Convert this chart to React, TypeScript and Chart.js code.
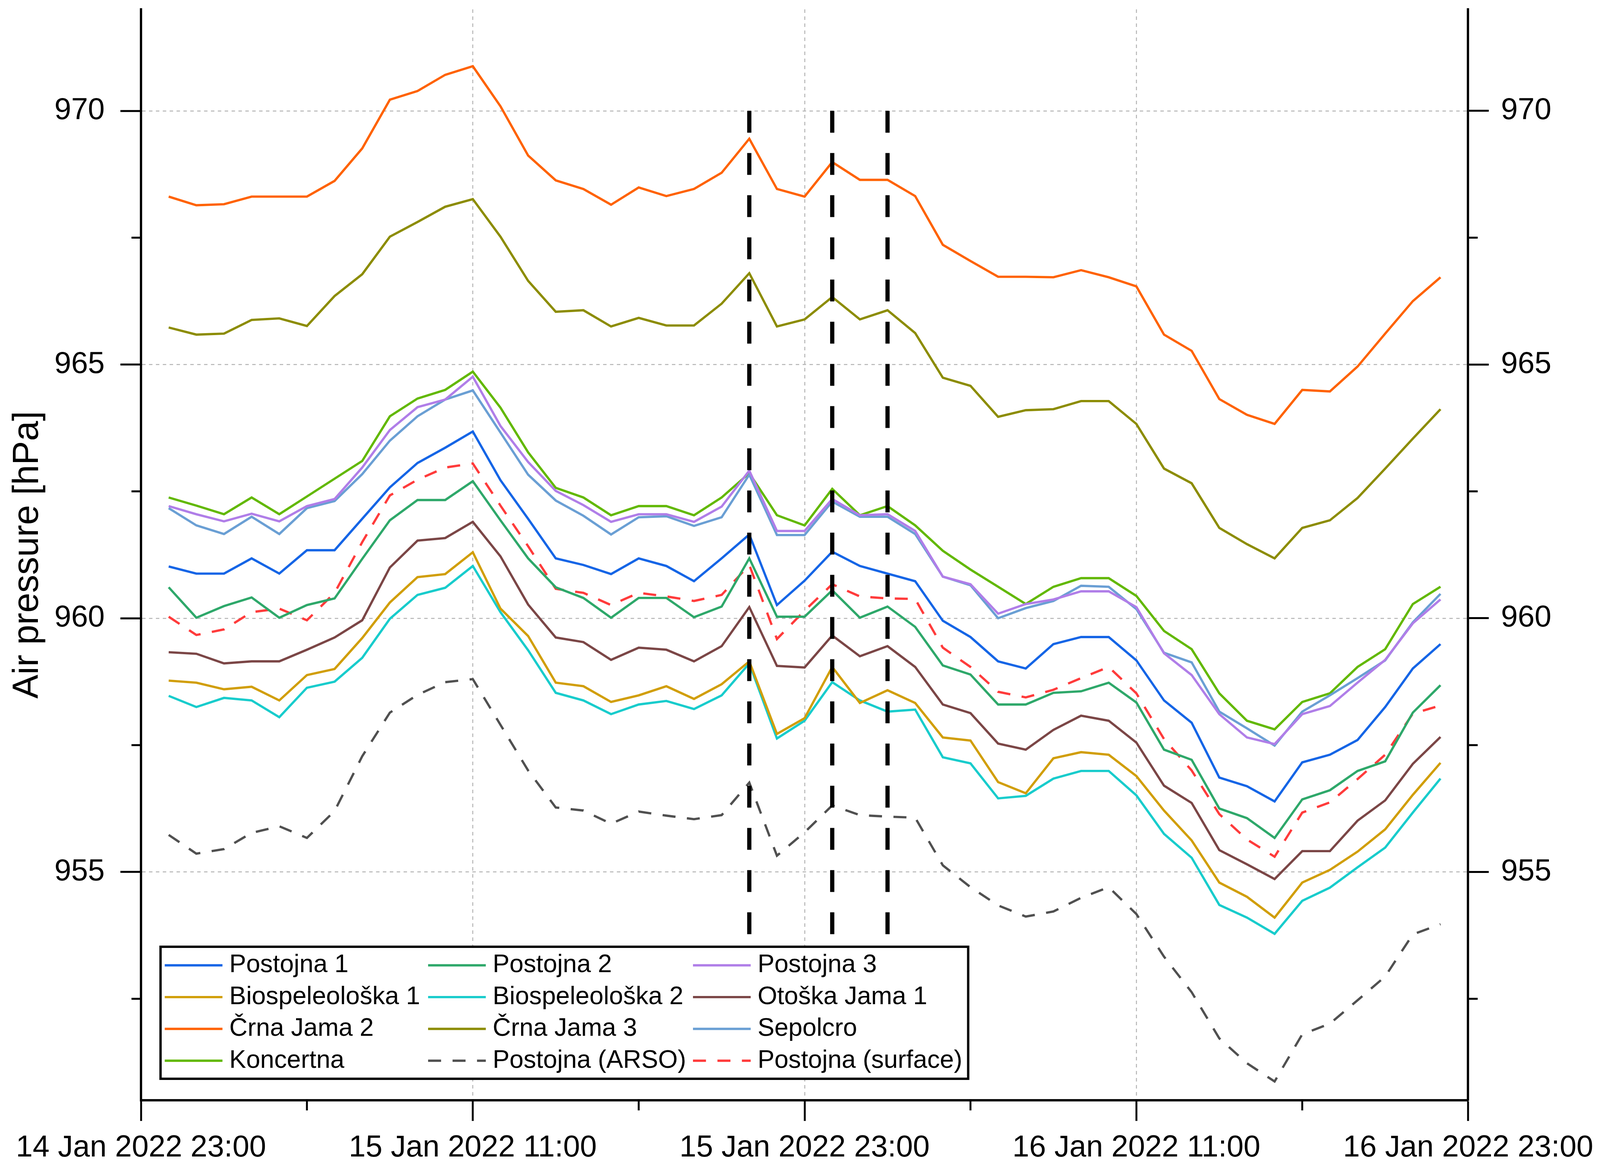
import React, { useEffect, useRef } from 'react';
import { Chart, registerables } from 'chart.js';

Chart.register(...registerables);

const FONT = '"Liberation Sans", Arial, Helvetica, sans-serif';
const GRID = '#b4b4b4';
const REF_W = 4186;
const REF_H = 2993;

// hours after 14 Jan 2022 23:00
const hours = [
  1, 2, 3, 4, 5, 6, 7, 8, 9, 10, 11, 12, 13, 14, 15, 16, 17, 18, 19, 20, 21, 22, 23, 24,
  25, 26, 27, 28, 29, 30, 31, 32, 33, 34, 35, 36, 37, 38, 39, 40, 41, 42, 43, 44, 45, 46, 47,
];
const xTickLabels = [
  '14 Jan 2022 23:00',
  '15 Jan 2022 11:00',
  '15 Jan 2022 23:00',
  '16 Jan 2022 11:00',
  '16 Jan 2022 23:00',
];
const xMinorTicks = [6, 18, 30, 42];
const yMinorTicks = [952.5, 957.5, 962.5, 967.5];
const eventHours = [22, 25, 27];
const eventRange = [970, 953.75];

const postojna1 = [
  961.02, 960.88, 960.88, 961.18, 960.88, 961.34, 961.34, 961.96, 962.58, 963.06, 963.36, 963.68,
  962.72, 961.96, 961.18, 961.05, 960.87, 961.18, 961.03, 960.73, 961.18, 961.65, 960.26, 960.74,
  961.31, 961.03, 960.88, 960.73, 959.95, 959.63, 959.15, 959.01, 959.49, 959.63, 959.63, 959.17,
  958.38, 957.94, 956.86, 956.69, 956.39, 957.16, 957.31, 957.6, 958.25, 959.01, 959.49,
];
const postojna2 = [
  960.61, 960.01, 960.24, 960.41, 960.01, 960.26, 960.39, 961.17, 961.93, 962.33, 962.33, 962.7,
  961.93, 961.18, 960.61, 960.4, 960.01, 960.4, 960.4, 960.02, 960.23, 961.18, 960.03, 960.03,
  960.55, 960.01, 960.23, 959.83, 959.07, 958.89, 958.3, 958.3, 958.53, 958.56, 958.73, 958.34,
  957.41, 957.21, 956.25, 956.06, 955.67, 956.43, 956.61, 956.99, 957.18, 958.14, 958.68,
];
const postojna3 = [
  962.21, 962.05, 961.91, 962.06, 961.91, 962.21, 962.35, 962.97, 963.71, 964.16, 964.31, 964.76,
  963.79, 963.08, 962.51, 962.23, 961.9, 962.05, 962.05, 961.9, 962.2, 962.91, 961.72, 961.72,
  962.35, 962.03, 962.05, 961.72, 960.82, 960.67, 960.09, 960.28, 960.37, 960.53, 960.53, 960.22,
  959.31, 958.88, 958.11, 957.65, 957.52, 958.11, 958.27, 958.73, 959.18, 959.9, 960.37,
];
const biospeleoloska1 = [
  958.77, 958.73, 958.6, 958.65, 958.38, 958.88, 959.0, 959.61, 960.31, 960.81, 960.87, 961.3,
  960.19, 959.65, 958.73, 958.66, 958.35, 958.48, 958.66, 958.41, 958.7, 959.15, 957.72, 958.03,
  959.04, 958.33, 958.58, 958.33, 957.65, 957.59, 956.77, 956.55, 957.24, 957.36, 957.31, 956.89,
  956.21, 955.62, 954.79, 954.51, 954.1, 954.79, 955.04, 955.4, 955.84, 956.52, 957.15,
];
const biospeleoloska2 = [
  958.47, 958.25, 958.43, 958.38, 958.05, 958.63, 958.75, 959.22, 959.99, 960.46, 960.6, 961.03,
  960.12, 959.37, 958.53, 958.38, 958.11, 958.3, 958.37, 958.21, 958.48, 959.11, 957.63, 957.98,
  958.74, 958.38, 958.16, 958.2, 957.26, 957.14, 956.45, 956.5, 956.84, 956.99, 956.99, 956.51,
  955.75, 955.28, 954.35, 954.1, 953.78, 954.43, 954.69, 955.09, 955.48, 956.17, 956.84,
];
const otoskaJama1 = [
  959.33, 959.3, 959.11, 959.15, 959.15, 959.38, 959.62, 959.96, 961.0, 961.53, 961.58, 961.9,
  961.22, 960.27, 959.62, 959.53, 959.18, 959.42, 959.38, 959.15, 959.45, 960.22, 959.06, 959.03,
  959.66, 959.25, 959.45, 959.04, 958.3, 958.13, 957.53, 957.41, 957.8, 958.08, 957.98, 957.55,
  956.7, 956.36, 955.43, 955.15, 954.86, 955.41, 955.41, 956.01, 956.41, 957.13, 957.66,
];
const crnaJama2 = [
  968.31, 968.14, 968.16, 968.31, 968.31, 968.31, 968.62, 969.26, 970.22, 970.39, 970.71, 970.88,
  970.09, 969.12, 968.63, 968.46, 968.15, 968.49, 968.32, 968.46, 968.78, 969.45, 968.46, 968.31,
  968.99, 968.64, 968.64, 968.32, 967.36, 967.04, 966.73, 966.73, 966.72, 966.86, 966.72, 966.54,
  965.59, 965.27, 964.32, 964.01, 963.83, 964.5, 964.47, 964.96, 965.61, 966.25, 966.72,
];
const crnaJama3 = [
  965.73, 965.59, 965.61, 965.88, 965.91, 965.76, 966.35, 966.78, 967.52, 967.81, 968.11, 968.26,
  967.52, 966.65, 966.04, 966.07, 965.75, 965.92, 965.77, 965.77, 966.2, 966.8, 965.75, 965.89,
  966.33, 965.89, 966.07, 965.62, 964.74, 964.58, 963.97, 964.1, 964.12, 964.28, 964.28, 963.83,
  962.95, 962.66, 961.78, 961.46, 961.18, 961.78, 961.93, 962.37, 962.95, 963.54, 964.12,
];
const sepolcro = [
  962.17, 961.83, 961.66, 962.0, 961.66, 962.17, 962.31, 962.84, 963.5, 963.98, 964.31, 964.49,
  963.66, 962.83, 962.32, 962.02, 961.65, 961.99, 962.01, 961.82, 961.99, 962.83, 961.64, 961.64,
  962.3, 962.0, 962.0, 961.66, 960.82, 960.65, 960.0, 960.2, 960.34, 960.64, 960.62, 960.18,
  959.32, 959.13, 958.16, 957.83, 957.49, 958.16, 958.48, 958.82, 959.17, 959.92, 960.48,
];
const koncertna = [
  962.38, 962.22, 962.05, 962.38, 962.05, 962.4, 962.75, 963.1, 963.98, 964.33, 964.5, 964.86,
  964.15, 963.27, 962.57, 962.38, 962.03, 962.21, 962.21, 962.03, 962.38, 962.86, 962.03, 961.83,
  962.55, 962.03, 962.21, 961.83, 961.33, 960.96, 960.62, 960.28, 960.62, 960.79, 960.79, 960.44,
  959.75, 959.39, 958.52, 957.98, 957.81, 958.35, 958.52, 959.04, 959.39, 960.28, 960.62,
];
const postojnaArso = [
  955.73, 955.36, 955.45, 955.77, 955.9, 955.67, 956.2, 957.28, 958.14, 958.49, 958.74, 958.8,
  957.9, 957.0, 956.27, 956.21, 955.95, 956.19, 956.11, 956.04, 956.12, 956.76, 955.32, 955.78,
  956.31, 956.12, 956.09, 956.07, 955.13, 954.7, 954.34, 954.12, 954.22, 954.49, 954.7, 954.17,
  953.33, 952.63, 951.72, 951.23, 950.87, 951.8, 952.01, 952.47, 952.94, 953.77, 953.97,
];
const postojnaSurface = [
  960.03, 959.67, 959.78, 960.12, 960.19, 959.96, 960.5, 961.5, 962.42, 962.73, 962.97, 963.05,
  962.22, 961.42, 960.58, 960.5, 960.26, 960.5, 960.43, 960.34, 960.46, 961.05, 959.59, 960.15,
  960.67, 960.43, 960.39, 960.38, 959.42, 959.04, 958.55, 958.44, 958.59, 958.82, 959.04, 958.52,
  957.62, 957.0, 956.14, 955.64, 955.3, 956.17, 956.37, 956.83, 957.31, 958.12, 958.28,
];

const seriesDefs = [
  { label: 'Postojna 1', values: postojna1, color: '#1565e6', dash: [] as number[] },
  { label: 'Postojna 2', values: postojna2, color: '#2ea86a', dash: [] },
  { label: 'Postojna 3', values: postojna3, color: '#b07ee8', dash: [] },
  { label: 'Biospeleološka 1', values: biospeleoloska1, color: '#d19e08', dash: [] },
  { label: 'Biospeleološka 2', values: biospeleoloska2, color: '#18cccc', dash: [] },
  { label: 'Otoška Jama 1', values: otoskaJama1, color: '#7b4646', dash: [] },
  { label: 'Črna Jama 2', values: crnaJama2, color: '#ff6200', dash: [] },
  { label: 'Črna Jama 3', values: crnaJama3, color: '#8c8c00', dash: [] },
  { label: 'Sepolcro', values: sepolcro, color: '#6a9fd4', dash: [] },
  { label: 'Koncertna', values: koncertna, color: '#62b800', dash: [] },
  { label: 'Postojna (ARSO)', values: postojnaArso, color: '#505050', dash: [34, 30] },
  { label: 'Postojna (surface)', values: postojnaSurface, color: '#ff3b3b', dash: [34, 30] },
];

function makeExtrasPlugin(kx: number, ky: number) {
  const ux = (v: number) => v * kx;
  const uy = (v: number) => v * ky;
  return {
    id: 'extras',
    afterDatasetsDraw(chart: any) {
      const { ctx } = chart;
      const xs = chart.scales.x;
      const ys = chart.scales.y;
      ctx.save();
      ctx.strokeStyle = '#000';
      ctx.lineWidth = ux(11);
      ctx.lineCap = 'butt';
      ctx.setLineDash([uy(56), uy(52)]);
      eventHours.forEach((h) => {
        const px = xs.getPixelForValue(h);
        ctx.beginPath();
        ctx.moveTo(px, ys.getPixelForValue(eventRange[0]));
        ctx.lineTo(px, ys.getPixelForValue(eventRange[1]));
        ctx.stroke();
      });
      ctx.restore();
    },
    afterDraw(chart: any) {
      const { ctx, chartArea: ca } = chart;
      const xs = chart.scales.x;
      const ys = chart.scales.y;
      ctx.save();
      ctx.strokeStyle = '#000';
      ctx.setLineDash([]);
      ctx.lineWidth = ux(5);
      xMinorTicks.forEach((v) => {
        const px = xs.getPixelForValue(v);
        ctx.beginPath();
        ctx.moveTo(px, ca.bottom);
        ctx.lineTo(px, ca.bottom + uy(26));
        ctx.stroke();
      });
      ctx.lineWidth = uy(5);
      yMinorTicks.forEach((v) => {
        const py = ys.getPixelForValue(v);
        ctx.beginPath();
        ctx.moveTo(ca.left - ux(25), py);
        ctx.lineTo(ca.left, py);
        ctx.moveTo(ca.right, py);
        ctx.lineTo(ca.right + ux(25), py);
        ctx.stroke();
      });

      // legend box
      const w = ux(2113);
      const h = uy(338);
      const left = ca.left + ux(51);
      const top = ca.bottom - uy(55) - h;
      ctx.fillStyle = '#fff';
      ctx.fillRect(left, top, w, h);
      ctx.lineWidth = uy(6);
      ctx.strokeStyle = '#000';
      ctx.strokeRect(left, top, w, h);
      ctx.font = `${ux(66)}px ${FONT}`;
      ctx.textBaseline = 'middle';
      ctx.textAlign = 'left';
      const colX = [11, 700, 1393];
      chart.data.datasets.forEach((ds: any, i: number) => {
        const col = i % 3;
        const row = Math.floor(i / 3);
        const sx = left + ux(colX[col]);
        const cy = top + uy(47.5 + row * 81.4);
        ctx.strokeStyle = ds.borderColor;
        ctx.lineWidth = ds.borderWidth;
        ctx.setLineDash(ds.borderDash || []);
        ctx.beginPath();
        ctx.moveTo(sx, cy);
        ctx.lineTo(sx + ux(151), cy);
        ctx.stroke();
        ctx.setLineDash([]);
        ctx.fillStyle = '#000';
        ctx.fillText(ds.label, sx + ux(169), cy);
      });
      ctx.restore();
    },
  };
}

export default function App() {
  const canvasRef = useRef<HTMLCanvasElement | null>(null);
  const wrapRef = useRef<HTMLDivElement | null>(null);

  useEffect(() => {
    if (!canvasRef.current || !wrapRef.current) return;
    const cw = wrapRef.current.clientWidth || window.innerWidth || REF_W;
    const ch = wrapRef.current.clientHeight || window.innerHeight || REF_H;
    const kx = cw / REF_W;
    const ky = ch / REF_H;
    const ux = (v: number) => v * kx;
    const uy = (v: number) => v * ky;

    const datasets = seriesDefs.map((s) => ({
      label: s.label,
      data: s.values.map((v, i) => ({ x: hours[i], y: v })),
      borderColor: s.color,
      backgroundColor: s.color,
      borderWidth: ux(6),
      borderDash: s.dash.map(ux),
      pointRadius: 0,
      tension: 0,
      fill: false,
    }));

    const yTicks = {
      stepSize: 5,
      includeBounds: false,
      autoSkip: false,
      color: '#000',
      font: { family: FONT, size: ux(79) },
      callback: (v: any) => String(v),
    };

    const chart = new Chart(canvasRef.current, {
      type: 'line',
      data: { datasets },
      plugins: [makeExtrasPlugin(kx, ky)],
      options: {
        animation: false,
        responsive: true,
        maintainAspectRatio: false,
        events: [],
        layout: { padding: { top: uy(24), left: 0, right: 0, bottom: 0 } },
        plugins: {
          legend: { display: false },
          tooltip: { enabled: false },
          title: { display: false },
        },
        scales: {
          x: {
            type: 'linear',
            position: 'bottom',
            min: 0,
            max: 48,
            afterFit: (s: any) => {
              s.height = uy(176);
              s.paddingLeft = 0;
              s.paddingRight = 0;
            },
            ticks: {
              stepSize: 12,
              includeBounds: false,
              autoSkip: false,
              maxRotation: 0,
              minRotation: 0,
              padding: uy(23),
              color: '#000',
              font: { family: FONT, size: ux(79) },
              callback: (v: any) => xTickLabels[Math.round(Number(v) / 12)] ?? '',
            },
            grid: {
              color: (c: any) =>
                c.tick && c.tick.value > 0 && c.tick.value < 48 ? GRID : 'rgba(0,0,0,0)',
              lineWidth: ux(2.5),
              tickColor: '#000',
              tickWidth: ux(5),
              tickLength: uy(53),
              drawTicks: true,
            },
            border: { display: true, color: '#000', width: uy(6), dash: [uy(9), uy(9)] },
          },
          y: {
            type: 'linear',
            min: 950.5,
            max: 972,
            position: 'left',
            afterFit: (s: any) => {
              s.width = ux(369);
              s.paddingTop = 0;
              s.paddingBottom = 0;
            },
            ticks: { ...yTicks, padding: ux(41) },
            title: {
              display: true,
              text: 'Air pressure [hPa]',
              color: '#000',
              font: { family: FONT, size: uy(92) },
              padding: { top: ux(17), bottom: 0 },
            },
            grid: {
              color: GRID,
              lineWidth: uy(2.5),
              tickColor: '#000',
              tickWidth: uy(5),
              tickLength: ux(54),
              drawTicks: true,
            },
            border: { display: true, color: '#000', width: ux(6), dash: [ux(9), ux(9)] },
          },
          y2: {
            type: 'linear',
            min: 950.5,
            max: 972,
            position: 'right',
            afterFit: (s: any) => {
              s.width = ux(345);
              s.paddingTop = 0;
              s.paddingBottom = 0;
            },
            ticks: { ...yTicks, padding: ux(32) },
            grid: {
              drawOnChartArea: false,
              color: GRID,
              tickColor: '#000',
              tickWidth: uy(5),
              tickLength: ux(54),
              drawTicks: true,
            },
            border: { display: true, color: '#000', width: ux(6) },
          },
        },
      } as any,
    });

    return () => {
      chart.destroy();
    };
  }, []);

  return (
    <div
      ref={wrapRef}
      style={{
        position: 'fixed',
        left: 0,
        top: 0,
        width: '100vw',
        height: '100vh',
        background: '#fff',
      }}
    >
      <canvas ref={canvasRef} />
    </div>
  );
}
